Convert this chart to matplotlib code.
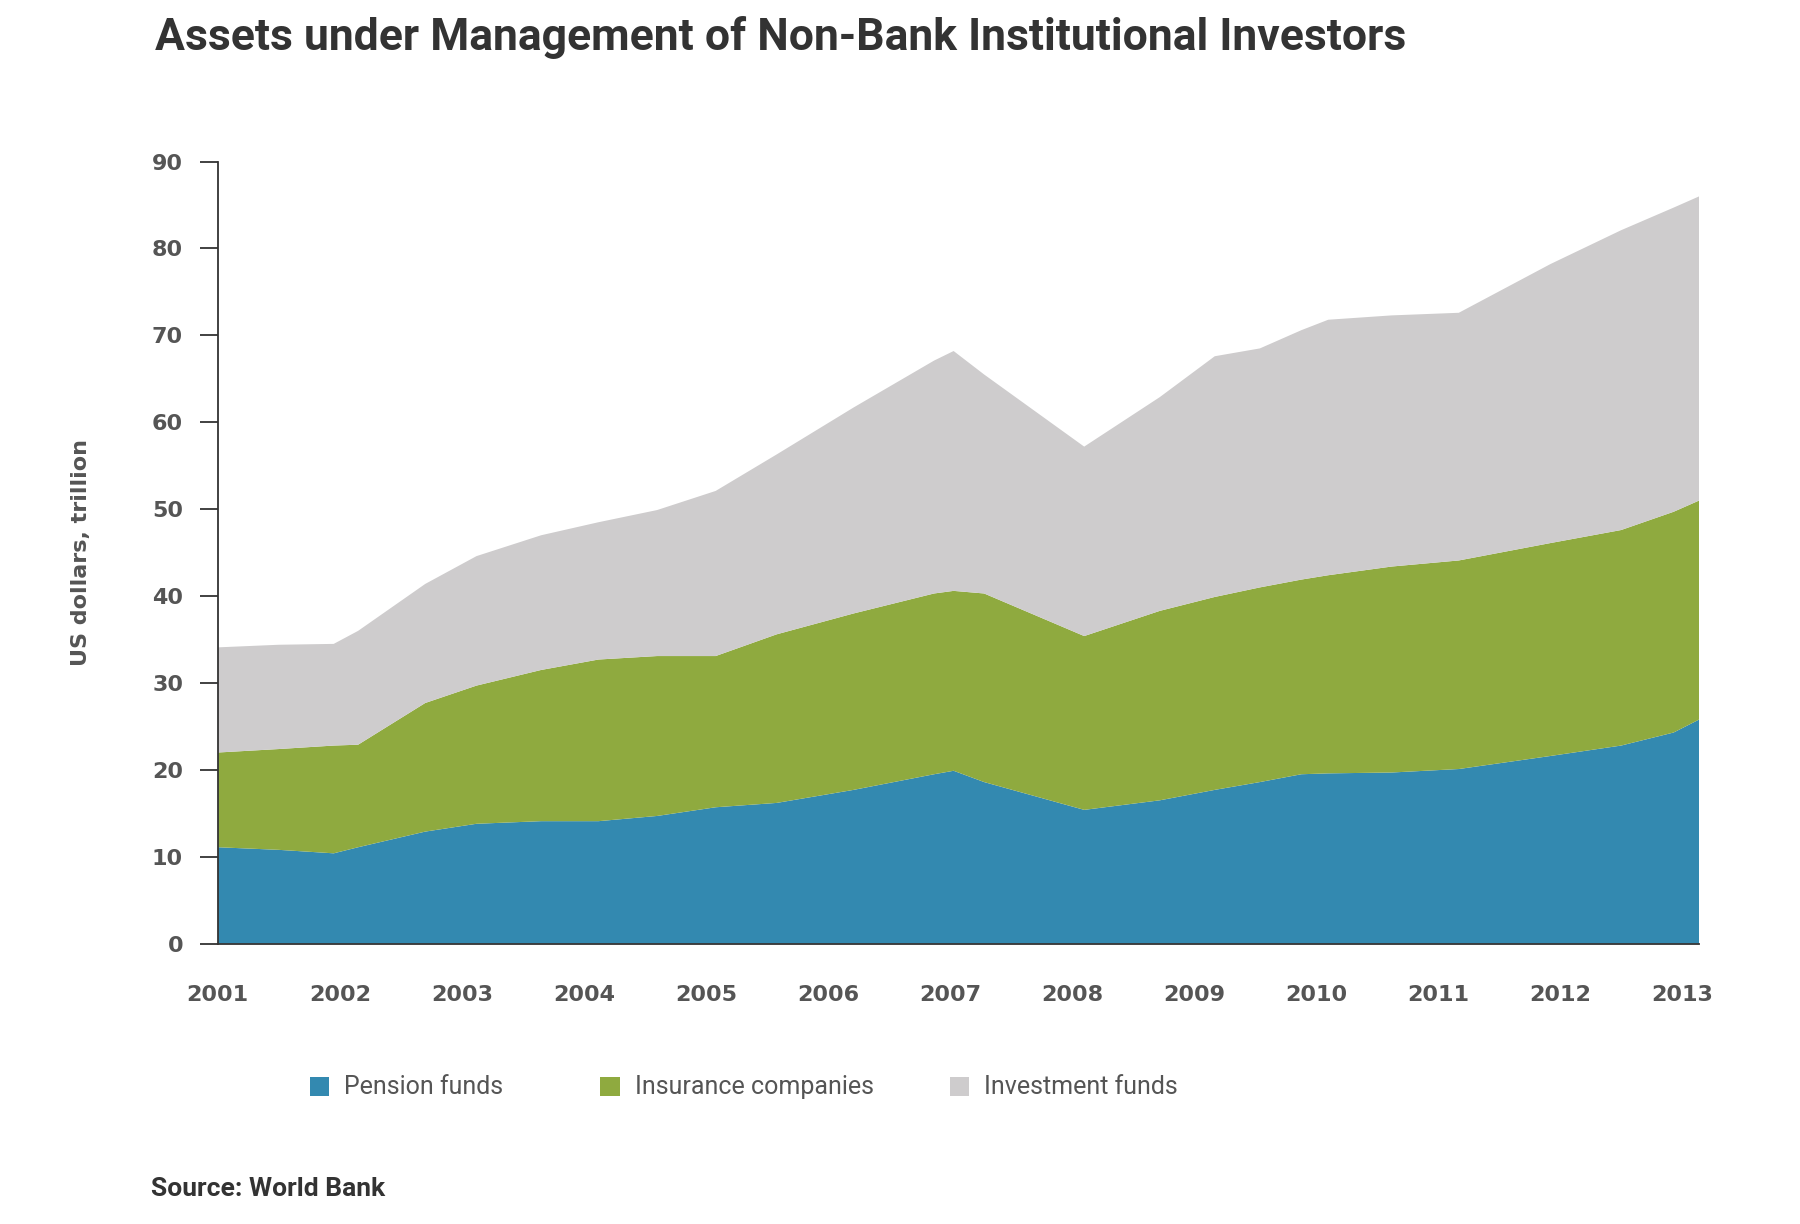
import matplotlib
matplotlib.use("Agg")
import matplotlib.pyplot as plt
from matplotlib.patches import Rectangle

# fractional years where the outline changes direction
years = [2001.0, 2001.5, 2001.95, 2002.15, 2002.7, 2003.12, 2003.65, 2004.12,
         2004.6, 2005.08, 2005.58, 2006.21, 2006.87, 2007.03, 2007.28, 2008.1,
         2008.72, 2009.17, 2009.54, 2009.88, 2010.1, 2010.62, 2011.17, 2011.92,
         2012.5, 2012.93, 2013.14]

# US dollars, trillion
pension = [11.1, 10.8, 10.4, 11.1, 12.9, 13.8, 14.1, 14.1, 14.7, 15.7, 16.2,
           17.7, 19.5, 19.9, 18.6, 15.4, 16.5, 17.7, 18.6, 19.5, 19.6, 19.7,
           20.1, 21.6, 22.8, 24.3, 25.8]
insurance = [10.9, 11.6, 12.4, 11.8, 14.8, 15.9, 17.4, 18.6, 18.4, 17.4, 19.4,
             20.3, 20.8, 20.7, 21.7, 20.0, 21.8, 22.2, 22.4, 22.4, 22.8, 23.7,
             24.0, 24.5, 24.8, 25.4, 25.2]
investment = [12.1, 12.0, 11.7, 13.1, 13.7, 14.9, 15.5, 15.8, 16.8, 19.0, 20.7,
              23.7, 26.8, 27.6, 25.2, 21.8, 24.6, 27.7, 27.5, 28.7, 29.4, 28.9,
              28.5, 32.1, 34.5, 35.0, 35.0]

labels = ["Pension funds", "Insurance companies", "Investment funds"]
colors = ["#3389b0", "#8faa3f", "#cecccd"]
year_ticks = list(range(2001, 2014))

fig = plt.figure(figsize=(18, 12.24), dpi=100)
ax = fig.add_axes([0.121, 0.229, 0.823, 0.639])

ax.stackplot(years, pension, insurance, investment, colors=colors, linewidth=0)

ax.set_xlim(years[0], years[-1])
ax.set_ylim(0, 90)
ax.set_yticks(range(0, 91, 10))
ax.set_xticks(year_ticks)

for s in ["top", "right"]:
    ax.spines[s].set_visible(False)
ax.spines["left"].set_color("#333333")
ax.spines["bottom"].set_color("#333333")
ax.spines["left"].set_linewidth(1.3)
ax.spines["bottom"].set_linewidth(1.3)

ax.tick_params(axis="y", length=13, width=1.3, color="#333333", pad=12,
               labelsize=16, labelcolor="#555555")
ax.tick_params(axis="x", length=0, pad=30, labelsize=16, labelcolor="#555555")
for t in ax.get_xticklabels() + ax.get_yticklabels():
    t.set_fontweight("bold")

ax.set_ylabel("US dollars, trillion", fontsize=16, fontweight="bold",
              color="#555555", labelpad=44)

fig.text(0.086, 0.969, "Assets under Management of Non-Bank Institutional Investors",
         fontsize=32, fontweight="bold", color="#333333", family="Roboto",
         ha="left", va="center")

# legend: small squares with labels in a row below the plot
patch_x = [0.1722, 0.3336, 0.528]
text_x = [0.1913, 0.3527, 0.5466]
leg_y = 0.112
for px, tx, lab, c in zip(patch_x, text_x, labels, colors):
    fig.add_artist(Rectangle((px, leg_y - 0.0078), 0.0106, 0.0156,
                             transform=fig.transFigure, facecolor=c,
                             edgecolor="none"))
    fig.text(tx, leg_y, lab, fontsize=18, color="#555555", family="Roboto",
             ha="left", va="center")

fig.text(0.084, 0.029, "Source: World Bank", fontsize=19, fontweight="bold",
         color="#333333", family="Roboto", ha="left", va="center")

fig.savefig("out.png", dpi=100, facecolor="white")
